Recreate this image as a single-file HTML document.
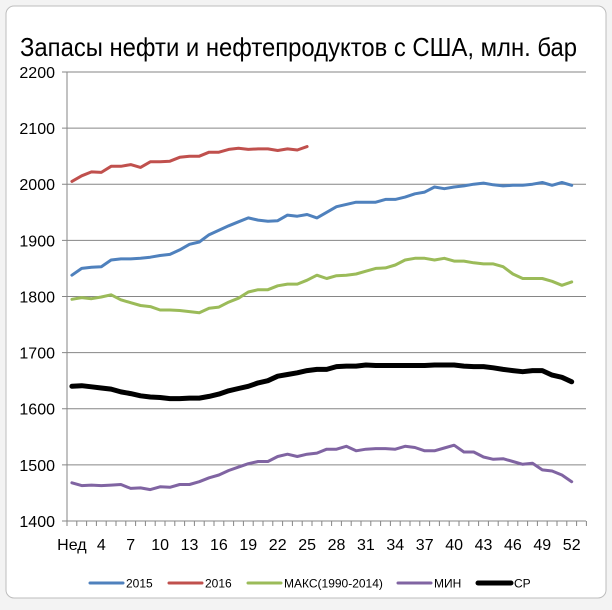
<!DOCTYPE html>
<html><head><meta charset="utf-8"><style>
html,body{margin:0;padding:0;background:#fff;}
svg{display:block;font-family:"Liberation Sans","DejaVu Sans",sans-serif;}
</style></head><body>
<svg id="c" width="612" height="610" xmlns="http://www.w3.org/2000/svg">
<rect x="0" y="0" width="612" height="610" fill="#f3f3f3"/>
<rect x="6" y="6" width="600" height="592" rx="8" fill="#fff" stroke="#bdbdbd"/>
<text x="20" y="56" font-size="26" textLength="557" lengthAdjust="spacingAndGlyphs" fill="#000">Запасы нефти и нефтепродуктов с США, млн. бар</text>
<g id="g"></g>
</svg>
<script>
var NS="http://www.w3.org/2000/svg",g=document.getElementById('g');
function el(t,a,txt){var e=document.createElementNS(NS,t);for(var k in a)e.setAttribute(k,a[k]);if(txt!=null)e.textContent=txt;g.appendChild(e);return e;}
var L=67,R=586,sw=9.8;
function X(w){return L+(w-0.5)*sw;}
function Y(v){return 521-(v-1400)*0.5613;}
for(var v=1400;v<=2200;v+=100){var y=Y(v);
 el('line',{x1:L-5,x2:R,y1:y,y2:y,stroke:'#868686','stroke-width':1});
 el('text',{x:L-12,y:y+6,'font-size':16,'text-anchor':'end',fill:'#000'},v);}
el('line',{x1:L,x2:L,y1:Y(2200),y2:Y(1400),stroke:'#868686'});
for(var i=0;i<=53;i++){var x=L+i*sw;el('line',{x1:x,x2:x,y1:521,y2:526,stroke:'#868686'});}
el('text',{x:X(1),y:550,'font-size':16,'text-anchor':'middle'},'Нед');
for(var w=4;w<=52;w+=3)el('text',{x:X(w),y:550,'font-size':16,'text-anchor':'middle'},w);
function line(d,c,wd){var p=d.map(function(v,i){return X(i+1).toFixed(1)+','+Y(v).toFixed(1)}).join(' ');
 el('polyline',{points:p,fill:'none',stroke:c,'stroke-width':wd,'stroke-linejoin':'round','stroke-linecap':'round'});}
var b=[1838,1850,1852,1853,1865,1867,1867,1868,1870,1873,1875,1883,1893,1897,1910,1918,1926,1933,1940,1936,1934,1935,1945,1943,1946,1940,1950,1960,1964,1968,1968,1968,1973,1973,1977,1983,1986,1995,1992,1995,1997,2000,2002,1999,1997,1998,1998,2000,2003,1998,2003,1998];
var r=[2005,2015,2022,2021,2032,2032,2035,2030,2040,2040,2041,2048,2050,2050,2057,2057,2062,2064,2062,2063,2063,2060,2063,2061,2067];
var gr=[1795,1798,1796,1799,1803,1794,1789,1784,1782,1776,1776,1775,1773,1771,1779,1781,1790,1797,1808,1812,1812,1819,1822,1822,1829,1838,1832,1837,1838,1840,1845,1850,1851,1856,1865,1868,1868,1865,1868,1863,1863,1860,1858,1858,1853,1840,1832,1832,1832,1827,1820,1826,1828].slice(0,52);
var m=[1468,1463,1464,1463,1464,1465,1458,1459,1456,1461,1460,1465,1465,1470,1477,1482,1490,1496,1502,1506,1506,1515,1519,1515,1519,1521,1528,1528,1533,1525,1528,1529,1529,1528,1533,1531,1525,1525,1530,1535,1523,1523,1514,1510,1511,1506,1501,1503,1491,1489,1482,1470];
var k=[1640,1641,1639,1637,1635,1630,1627,1623,1621,1620,1618,1618,1619,1619,1622,1626,1632,1636,1640,1646,1650,1658,1661,1664,1668,1670,1670,1675,1676,1676,1678,1677,1677,1677,1677,1677,1677,1678,1678,1678,1676,1675,1675,1673,1670,1668,1666,1668,1668,1660,1656,1648];
line(b,'#4f81bd',3);line(r,'#c0504d',3);line(gr,'#9bbb59',3);line(m,'#8064a2',3);line(k,'#000',5);
var lg=[[90,'2015','#4f81bd',3],[169,'2016','#c0504d',3],[248,'МАКС(1990-2014)','#9bbb59',3],[398,'МИН','#8064a2',3],[478,'СР','#000',5]];
lg.forEach(function(a){
 el('line',{x1:a[0],x2:a[0]+33,y1:583,y2:583,stroke:a[2],'stroke-width':a[3],'stroke-linecap':'round'});
 el('text',{x:a[0]+36,y:587.5,'font-size':12,fill:'#000'},a[1]);});
</script>
</body></html>
